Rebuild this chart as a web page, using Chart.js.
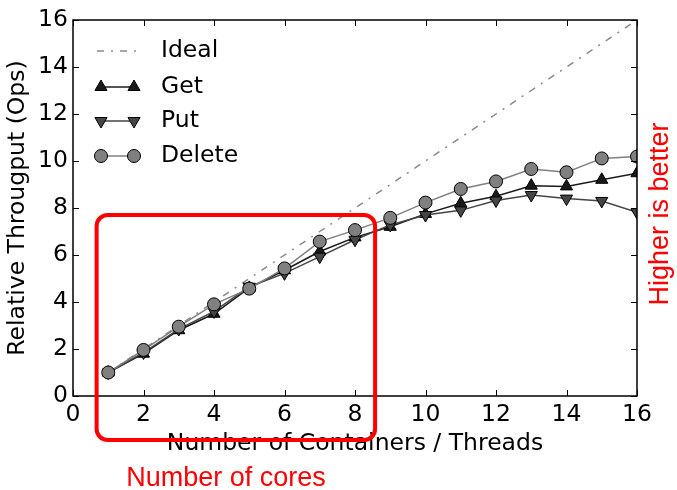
<!DOCTYPE html>
<html>
<head>
<meta charset="utf-8">
<script src="https://cdn.jsdelivr.net/npm/chart.js@4.4.1/dist/chart.umd.min.js"></script>
<style>
  html, body { margin: 0; padding: 0; background: #ffffff; }
  #wrap { width: 677px; height: 490px; position: relative; }
</style>
</head>
<body>
<div id="wrap"><canvas id="c" width="677" height="490"></canvas></div>
<script>
// ---- data ----
const threads   = [1, 2, 3, 4, 5, 6, 7, 8, 9, 10, 11, 12, 13, 14, 15, 16];
const idealOps  = [1, 2, 3, 4, 5, 6, 7, 8, 9, 10, 11, 12, 13, 14, 15, 16];
const getOps    = [1.0, 1.8, 2.8, 3.5, 4.6, 5.35, 6.15, 6.75, 7.2, 7.75, 8.2, 8.5, 8.95, 8.92, 9.2, 9.48];
const putOps    = [1.0, 1.85, 2.85, 3.6, 4.65, 5.22, 5.93, 6.65, 7.28, 7.7, 7.9, 8.32, 8.55, 8.4, 8.3, 7.82];
const deleteOps = [1.0, 1.96, 2.95, 3.9, 4.57, 5.43, 6.57, 7.06, 7.58, 8.23, 8.81, 9.13, 9.66, 9.52, 10.11, 10.19];
const seriesNames = ['Ideal', 'Get', 'Put', 'Delete'];
const xTickValues = [0, 2, 4, 6, 8, 10, 12, 14, 16];
const yTickValues = [0, 2, 4, 6, 8, 10, 12, 14, 16];
const xTitle = 'Number of Containers / Threads';
const yTitle = 'Relative Througput (Ops)';
const noteCores = 'Number of cores';
const noteBetter = 'Higher is better';
// annotation box (data units)
const boxX = [0.67, 8.57];
const boxY = [-1.87, 7.70];

const FONT = 'DejaVu Sans';
const FS = 23.5;
const toXY = (vals) => threads.map((t, i) => ({ x: t, y: vals[i] }));

const datasets = [
  { label: seriesNames[0], data: toXY(idealOps), borderColor: '#8a8a8a', borderWidth: 1.5,
    borderDash: [7, 7, 2, 7], pointRadius: 0, pointHoverRadius: 0, order: 3, fill: false, tension: 0 },
  { label: seriesNames[1], data: toXY(getOps), borderColor: '#1a1a1a', borderWidth: 1.5,
    pointStyle: 'triangle', pointRadius: 7, pointRotation: 0, pointBackgroundColor: '#1a1a1a',
    pointBorderColor: '#000000', pointBorderWidth: 1, order: 2, fill: false, tension: 0 },
  { label: seriesNames[2], data: toXY(putOps), borderColor: '#454545', borderWidth: 1.5,
    pointStyle: 'triangle', pointRadius: 7, pointRotation: 180, pointBackgroundColor: '#454545',
    pointBorderColor: '#000000', pointBorderWidth: 1, order: 1, fill: false, tension: 0 },
  { label: seriesNames[3], data: toXY(deleteOps), borderColor: '#808080', borderWidth: 1.5,
    pointStyle: 'circle', pointRadius: 6.5, pointBackgroundColor: '#808080',
    pointBorderColor: '#000000', pointBorderWidth: 1, order: 0, fill: false, tension: 0 }
];

const framePlugin = {
  id: 'frame',
  afterDatasetsDraw(chart) {
    const { ctx, chartArea: a, scales: { x, y } } = chart;
    ctx.save();
    ctx.strokeStyle = '#000';
    ctx.lineWidth = 1;
    const L = 6;
    ctx.beginPath();
    xTickValues.forEach(v => {
      const px = Math.round(x.getPixelForValue(v)) + 0.5;
      ctx.moveTo(px, a.bottom); ctx.lineTo(px, a.bottom - L);
      ctx.moveTo(px, a.top); ctx.lineTo(px, a.top + L);
    });
    yTickValues.forEach(v => {
      const py = Math.round(y.getPixelForValue(v)) + 0.5;
      ctx.moveTo(a.left, py); ctx.lineTo(a.left + L, py);
      ctx.moveTo(a.right, py); ctx.lineTo(a.right - L, py);
    });
    ctx.stroke();
    ctx.lineWidth = 1.5;
    ctx.strokeRect(a.left, a.top, a.right - a.left, a.bottom - a.top);
    ctx.restore();
  }
};

const legendPlugin = {
  id: 'mplLegend',
  afterDatasetsDraw(chart) {
    const { ctx } = chart;
    const rowsY = [51, 87, 121, 156];
    const x0 = 97, x1 = 136, tx = 161;
    ctx.save();
    seriesNames.forEach((name, k) => {
      const ds = chart.data.datasets.find(d => d.label === name);
      const yy = rowsY[k];
      ctx.save();
      ctx.strokeStyle = ds.borderColor;
      ctx.lineWidth = ds.borderWidth;
      if (ds.borderDash) ctx.setLineDash(ds.borderDash);
      ctx.beginPath();
      ctx.moveTo(x0, yy); ctx.lineTo(x1 + (ds.pointRadius ? 0 : 4), yy);
      ctx.stroke();
      ctx.restore();
      if (ds.pointRadius) {
        [x0 + 4, x1 - 2].forEach(px => {
          ctx.save();
          ctx.fillStyle = ds.pointBackgroundColor;
          ctx.strokeStyle = ds.pointBorderColor;
          ctx.lineWidth = ds.pointBorderWidth;
          Chart.helpers.drawPoint(ctx, { pointStyle: ds.pointStyle, radius: ds.pointRadius,
            rotation: ds.pointRotation || 0, borderWidth: ds.pointBorderWidth }, px, yy);
          ctx.restore();
        });
      }
      ctx.fillStyle = '#000';
      ctx.font = FS + 'px "' + FONT + '"';
      ctx.textBaseline = 'middle';
      ctx.textAlign = 'left';
      ctx.fillText(name, tx, yy);
    });
    ctx.restore();
  }
};

const notesPlugin = {
  id: 'notes',
  afterDraw(chart) {
    const { ctx, scales: { x, y } } = chart;
    ctx.save();
    const l = x.getPixelForValue(boxX[0]), r = x.getPixelForValue(boxX[1]);
    const t = y.getPixelForValue(boxY[1]), b = y.getPixelForValue(boxY[0]);
    ctx.strokeStyle = '#ff0000';
    ctx.lineWidth = 4;
    ctx.beginPath();
    ctx.roundRect(l, t, r - l, b - t, 11);
    ctx.stroke();
    ctx.fillStyle = '#ff0000';
    ctx.font = '27px "Liberation Sans"';
    ctx.textAlign = 'center';
    ctx.textBaseline = 'middle';
    ctx.fillText(noteCores, 226, 479);
    ctx.translate(661, 214);
    ctx.rotate(-Math.PI / 2);
    ctx.fillText(noteBetter, 0, 0);
    ctx.restore();
  }
};

new Chart(document.getElementById('c'), {
  type: 'line',
  data: { datasets },
  options: {
    responsive: false,
    animation: false,
    devicePixelRatio: 1,
    layout: { padding: { left: 0, top: 20, right: 40, bottom: 0 } },
    plugins: { legend: { display: false }, tooltip: { enabled: false } },
    scales: {
      x: {
        type: 'linear', min: 0, max: 16,
        afterFit(s) { s.height = 94; },
        grid: { display: true, drawOnChartArea: false, drawTicks: false },
        border: { display: false },
        ticks: { stepSize: 2, padding: 5, color: '#000', font: { family: FONT, size: FS }, maxRotation: 0 },
        title: { display: true, text: xTitle, color: '#000', font: { family: FONT, size: FS },
                 padding: { top: 0, bottom: 32 } }
      },
      y: {
        type: 'linear', min: 0, max: 16,
        afterFit(s) { s.width = 73; },
        grid: { display: true, drawOnChartArea: false, drawTicks: false },
        border: { display: false },
        ticks: { stepSize: 2, padding: 5, color: '#000', font: { family: FONT, size: FS } },
        title: { display: true, text: yTitle, color: '#000', font: { family: FONT, size: FS },
                 padding: { top: 4, bottom: 0 } }
      }
    }
  },
  plugins: [framePlugin, legendPlugin, notesPlugin]
});
</script>
</body>
</html>
